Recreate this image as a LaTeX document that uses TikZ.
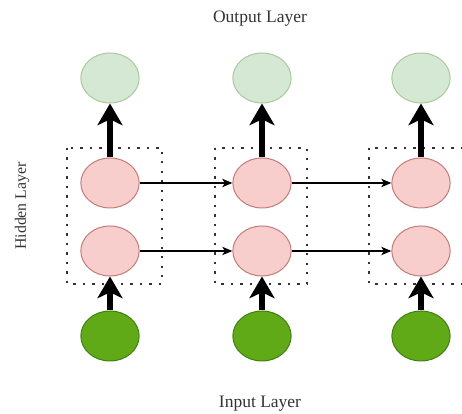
\documentclass[tikz,border=0pt]{standalone}
\usepackage{fontspec}
\setmainfont{Liberation Serif}
\usetikzlibrary{shapes.geometric}
\usetikzlibrary{arrows.meta}
\definecolor{outfill}{HTML}{D5E8D4}
\definecolor{outline}{HTML}{A9C99B}
\definecolor{hidfill}{HTML}{F8CECC}
\definecolor{hidline}{HTML}{C47A78}
\definecolor{infill}{HTML}{60A917}
\definecolor{inline}{HTML}{3F7F12}
\definecolor{labeltext}{HTML}{333333}

\begin{document}
\begin{tikzpicture}[x=0.6pt,y=-0.6pt,font=\fontsize{10.5}{12}\selectfont]
\tikzstyle{unit}=[ellipse,minimum width=35pt,minimum height=30pt,inner sep=0pt,line width=0.6pt]
\tikzstyle{outunit}=[unit,draw=outline,fill=outfill]
\tikzstyle{hidunit}=[unit,draw=hidline,fill=hidfill]
\tikzstyle{inunit}=[unit,draw=inline,fill=infill]
\tikzstyle{group}=[draw=black!80,line width=1.4pt,dash pattern=on 1.4pt off 4.3pt]
\tikzstyle{feed}=[line width=3.6pt,-{Stealth[length=13pt,width=15pt,inset=3.5pt]}]
\tikzstyle{recur}=[line width=0.7pt,-{Stealth[length=6pt,width=5pt,inset=1.5pt]}]
\tikzstyle{layername}=[text=labeltext]
\useasboundingbox (0,0) rectangle (462,414);
% dotted groups round the hidden units
\draw[group] (67,148) rectangle (162,284);
\draw[group] (215,148) rectangle (307,284);
\draw[group] (369,148) rectangle (470,284);
% units
\node[outunit] at(110,78) (o1) {};
\node[outunit] at(262,78) (o2) {};
\node[outunit] at(421,78) (o3) {};
\node[hidunit] at(110,183) (a1) {};
\node[hidunit] at(262,183) (a2) {};
\node[hidunit] at(421,183) (a3) {};
\node[hidunit] at(110,251) (b1) {};
\node[hidunit] at(262,251) (b2) {};
\node[hidunit] at(421,251) (b3) {};
\node[inunit] at(110,336) (i1) {};
\node[inunit] at(262,336) (i2) {};
\node[inunit] at(421,336) (i3) {};
% labels
\node[layername] at(260,19) (outlabel) {Output Layer};
\node[layername] at(260,404) (inlabel) {Input Layer};
\node[layername,rotate=90,font=\fontsize{9.5}{11}\selectfont] at(22,206) (hidlabel) {Hidden Layer};
% arrows
\draw[feed] (i1) -- (b1);
\draw[feed] (i2) -- (b2);
\draw[feed] (i3) -- (b3);
\draw[feed] (a1) -- (o1);
\draw[feed] (a2) -- (o2);
\draw[feed] (a3) -- (o3);
\draw[recur] (a1) -- (a2);
\draw[recur] (a2) -- (a3);
\draw[recur] (b1) -- (b2);
\draw[recur] (b2) -- (b3);
\end{tikzpicture}
\end{document}
